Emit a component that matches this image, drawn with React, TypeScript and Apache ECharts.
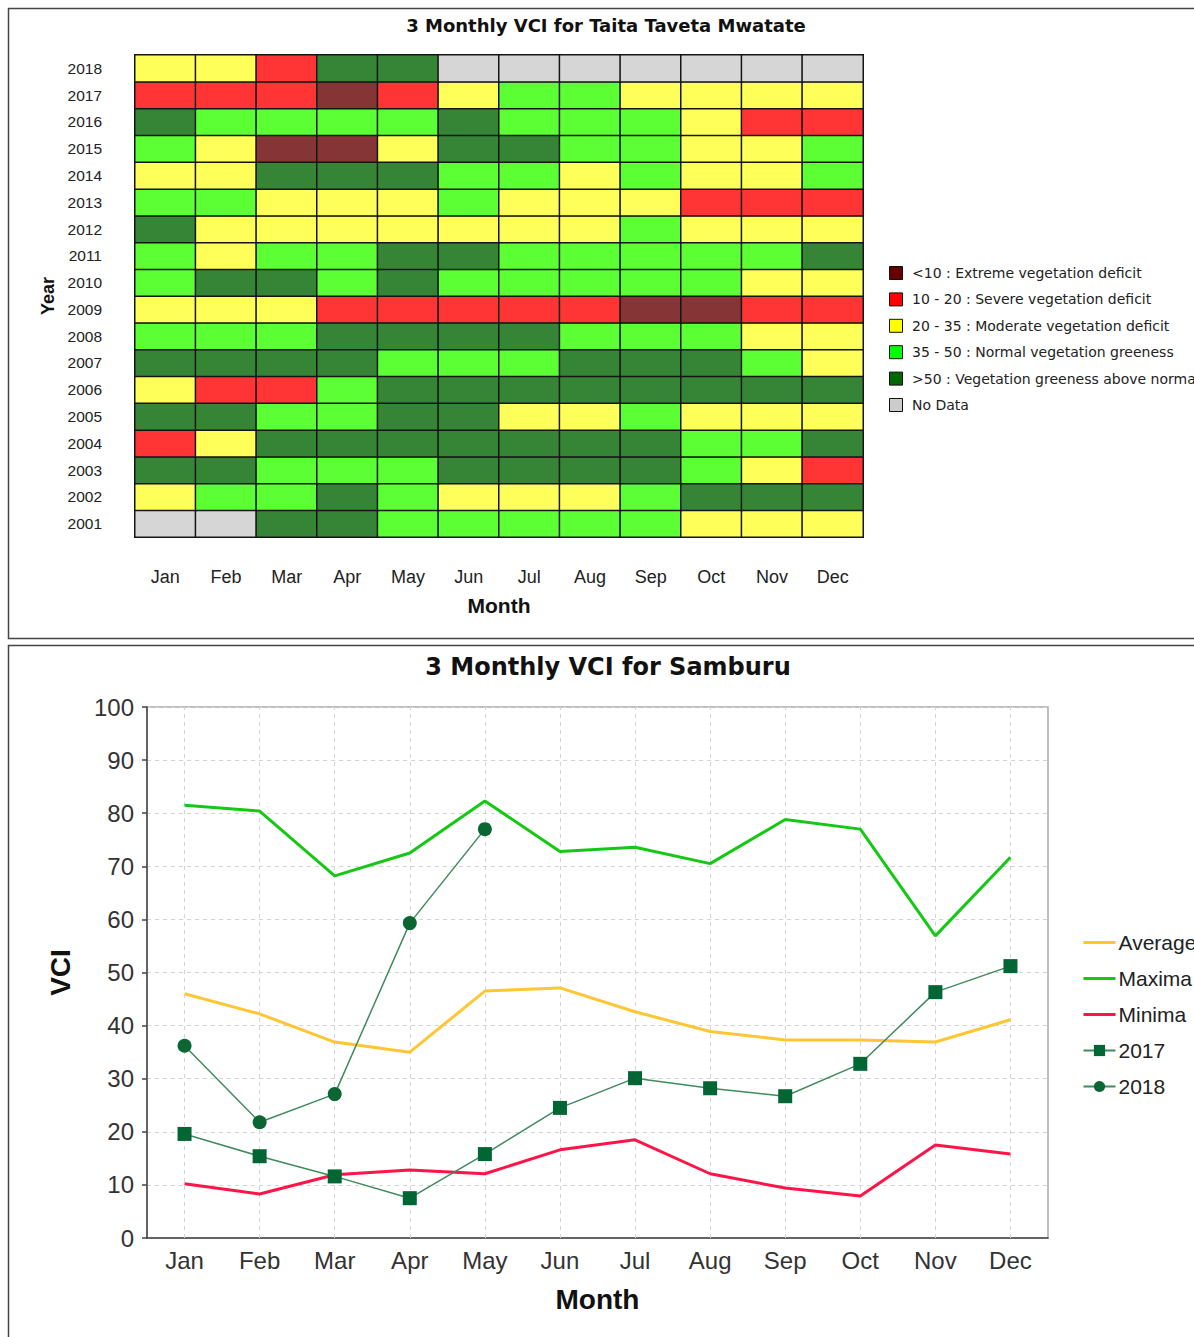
import React, { useEffect, useRef } from "react";
import * as echarts from "echarts";

// ---------- Heatmap (Taita Taveta Mwatate) ----------
const heatMonths = ["Jan", "Feb", "Mar", "Apr", "May", "Jun", "Jul", "Aug", "Sep", "Oct", "Nov", "Dec"];
const heatYears = ["2001", "2002", "2003", "2004", "2005", "2006", "2007", "2008", "2009", "2010", "2011", "2012", "2013", "2014", "2015", "2016", "2017", "2018"];
// E <10, S 10-20, M 20-35, N 35-50, A >50, X no data
const classCodes = ["E", "S", "M", "N", "A", "X"];
const classLabels = [
  "<10 : Extreme vegetation deficit",
  "10 - 20 : Severe vegetation deficit",
  "20 - 35 : Moderate vegetation deficit",
  "35 - 50 : Normal vegetation greeness",
  ">50 : Vegetation greeness above normal",
  "No Data",
];
const cellColors = ["#853535", "#ff3535", "#ffff59", "#5cff33", "#368436", "#d6d6d6"];
const legendColors = ["#660000", "#ff0000", "#ffff00", "#00ff00", "#006600", "#cccccc"];
// rows ordered 2001 -> 2018, columns Jan -> Dec
const yearClasses: string[][] = [
  ["X", "X", "A", "A", "N", "N", "N", "N", "N", "M", "M", "M"], // 2001
  ["M", "N", "N", "A", "N", "M", "M", "M", "N", "A", "A", "A"], // 2002
  ["A", "A", "N", "N", "N", "A", "A", "A", "A", "N", "M", "S"], // 2003
  ["S", "M", "A", "A", "A", "A", "A", "A", "A", "N", "N", "A"], // 2004
  ["A", "A", "N", "N", "A", "A", "M", "M", "N", "M", "M", "M"], // 2005
  ["M", "S", "S", "N", "A", "A", "A", "A", "A", "A", "A", "A"], // 2006
  ["A", "A", "A", "A", "N", "N", "N", "A", "A", "A", "N", "M"], // 2007
  ["N", "N", "N", "A", "A", "A", "A", "N", "N", "N", "M", "M"], // 2008
  ["M", "M", "M", "S", "S", "S", "S", "S", "E", "E", "S", "S"], // 2009
  ["N", "A", "A", "N", "A", "N", "N", "N", "N", "N", "M", "M"], // 2010
  ["N", "M", "N", "N", "A", "A", "N", "N", "N", "N", "N", "A"], // 2011
  ["A", "M", "M", "M", "M", "M", "M", "M", "N", "M", "M", "M"], // 2012
  ["N", "N", "M", "M", "M", "N", "M", "M", "M", "S", "S", "S"], // 2013
  ["M", "M", "A", "A", "A", "N", "N", "M", "N", "M", "M", "N"], // 2014
  ["N", "M", "E", "E", "M", "A", "A", "N", "N", "M", "M", "N"], // 2015
  ["A", "N", "N", "N", "N", "A", "N", "N", "N", "M", "S", "S"], // 2016
  ["S", "S", "S", "E", "S", "M", "N", "N", "M", "M", "M", "M"], // 2017
  ["M", "M", "S", "A", "A", "X", "X", "X", "X", "X", "X", "X"], // 2018
];

// ---------- Line chart (Samburu) ----------
const lineMonths = ["Jan", "Feb", "Mar", "Apr", "May", "Jun", "Jul", "Aug", "Sep", "Oct", "Nov", "Dec"];
const yTicks = { min: 0, max: 100, interval: 10 };
const averageVals = [46.0, 42.2, 36.9, 35.0, 46.5, 47.1, 42.6, 38.9, 37.3, 37.3, 36.9, 41.1];
const maximaVals = [81.5, 80.4, 68.2, 72.5, 82.3, 72.8, 73.6, 70.5, 78.8, 77.0, 56.9, 71.7];
const minimaVals = [10.2, 8.3, 11.9, 12.8, 12.1, 16.6, 18.5, 12.1, 9.4, 7.9, 17.5, 15.8];
const vals2017 = [19.6, 15.4, 11.6, 7.5, 15.8, 24.5, 30.1, 28.2, 26.7, 32.8, 46.3, 51.2];
const vals2018 = [36.2, 21.8, 27.1, 59.3, 77.0, null, null, null, null, null, null, null];

export default function App() {
  const ref = useRef<HTMLDivElement>(null);

  useEffect(() => {
    if (!ref.current) return;
    const chart = echarts.init(ref.current, null, { renderer: "svg" });

    const heatData: number[][] = [];
    yearClasses.forEach((row, yi) =>
      row.forEach((c, mi) => heatData.push([mi, yi, classCodes.indexOf(c)]))
    );

    const legendGraphics: any[] = [];
    classLabels.forEach((lab, i) => {
      const cy = 273 + i * 26.4;
      legendGraphics.push({
        type: "rect",
        shape: { x: 889.5, y: cy - 6.5, width: 13, height: 13 },
        style: { fill: legendColors[i], stroke: "#111", lineWidth: 1 },
        silent: true,
      });
      legendGraphics.push({
        type: "text",
        x: 912,
        y: cy,
        style: {
          text: lab,
          fill: "#222",
          font: "14px 'DejaVu Sans'",
          textVerticalAlign: "middle",
        },
        silent: true,
      });
    });

    const sansAxis = "Liberation Sans";

    chart.setOption({
      animation: false,
      backgroundColor: "#ffffff",
      graphic: [
        {
          type: "rect",
          shape: { x: 8.5, y: 8.5, width: 1200, height: 630 },
          style: { fill: "none", stroke: "#444", lineWidth: 1.5 },
          silent: true,
        },
        {
          type: "rect",
          shape: { x: 8.5, y: 645.5, width: 1200, height: 720 },
          style: { fill: "none", stroke: "#444", lineWidth: 1.5 },
          silent: true,
        },
        {
          type: "text",
          x: 606,
          y: 25,
          style: {
            text: "3 Monthly VCI for Taita Taveta Mwatate",
            fill: "#111",
            font: "bold 18px 'DejaVu Sans'",
            textAlign: "center",
            textVerticalAlign: "middle",
          },
          silent: true,
        },
        {
          type: "text",
          x: 608,
          y: 667,
          style: {
            text: "3 Monthly VCI for Samburu",
            fill: "#111",
            font: "bold 24px 'DejaVu Sans'",
            textAlign: "center",
            textVerticalAlign: "middle",
          },
          silent: true,
        },
        ...legendGraphics,
      ],
      grid: [
        { left: 135, top: 55, width: 728, height: 482 },
        {
          left: 147,
          top: 707,
          width: 901,
          height: 531,
          show: true,
          borderColor: "#aaaaaa",
          borderWidth: 1.5,
        },
      ],
      xAxis: [
        {
          type: "category",
          gridIndex: 0,
          data: heatMonths,
          name: "Month",
          nameLocation: "middle",
          nameGap: 58,
          nameTextStyle: { fontFamily: sansAxis, fontWeight: "bold", fontSize: 21, color: "#111" },
          axisLine: { show: false },
          axisTick: { show: false },
          axisLabel: { margin: 31, fontFamily: sansAxis, fontSize: 18, color: "#222" },
          splitLine: { show: false },
        },
        {
          type: "category",
          gridIndex: 1,
          data: lineMonths,
          name: "Month",
          nameLocation: "middle",
          nameGap: 47,
          nameTextStyle: { fontFamily: sansAxis, fontWeight: "bold", fontSize: 28, color: "#111" },
          axisLine: { lineStyle: { color: "#444", width: 1.5 } },
          axisTick: { alignWithLabel: true, length: 6, lineStyle: { color: "#444", width: 1.5 } },
          axisLabel: { margin: 10, fontFamily: sansAxis, fontSize: 24, color: "#333" },
          splitLine: { show: false },
        },
      ],
      yAxis: [
        {
          type: "category",
          gridIndex: 0,
          data: heatYears,
          name: "Year",
          nameLocation: "middle",
          nameGap: 78,
          nameRotate: 90,
          nameTextStyle: { fontFamily: sansAxis, fontWeight: "bold", fontSize: 18, color: "#111" },
          axisLine: { show: false },
          axisTick: { show: false },
          axisLabel: { margin: 33, fontFamily: sansAxis, fontSize: 15.5, color: "#222" },
          splitLine: { show: false },
        },
        {
          type: "value",
          gridIndex: 1,
          min: yTicks.min,
          max: yTicks.max,
          interval: yTicks.interval,
          name: "VCI",
          nameLocation: "middle",
          nameGap: 73,
          nameRotate: 90,
          nameTextStyle: { fontFamily: sansAxis, fontWeight: "bold", fontSize: 28, color: "#111" },
          axisLine: { show: true, lineStyle: { color: "#444", width: 1.5 } },
          axisTick: { show: true, length: 5, lineStyle: { color: "#444", width: 1.5 } },
          axisLabel: { margin: 13, fontFamily: sansAxis, fontSize: 24, color: "#333" },
          splitLine: { show: true, lineStyle: { type: [4, 4], color: "#d4d4d4", width: 1 } },
        },
      ],
      visualMap: {
        type: "piecewise",
        show: false,
        seriesIndex: 0,
        dimension: 2,
        pieces: cellColors.map((c, i) => ({ value: i, color: c })),
      },
      legend: {
        orient: "vertical",
        left: 1082,
        top: 932,
        itemWidth: 32,
        itemHeight: 14,
        itemGap: 15,
        padding: 0,
        data: [
          { name: "Average", itemStyle: { opacity: 0 }, lineStyle: { width: 3 } },
          { name: "Maxima", itemStyle: { opacity: 0 }, lineStyle: { width: 3 } },
          { name: "Minima", itemStyle: { opacity: 0 }, lineStyle: { width: 3 } },
          { name: "2017", lineStyle: { width: 2 } },
          { name: "2018", lineStyle: { width: 2 } },
        ],
        textStyle: { fontFamily: sansAxis, fontSize: 21, color: "#222", padding: [0, 0, 0, -2] },
      },
      series: [
        {
          type: "heatmap",
          xAxisIndex: 0,
          yAxisIndex: 0,
          data: heatData,
          itemStyle: { borderColor: "#151515", borderWidth: 1.5 },
          emphasis: { disabled: true },
        },
        {
          name: "gridlines",
          type: "line",
          xAxisIndex: 1,
          yAxisIndex: 1,
          data: lineMonths.map(() => null),
          symbol: "none",
          lineStyle: { opacity: 0 },
          z: 1,
          markLine: {
            silent: true,
            z: 1,
            symbol: "none",
            label: { show: false },
            lineStyle: { type: [4, 4], color: "#d4d4d4", width: 1 },
            data: lineMonths.map((m) => ({ xAxis: m })),
          },
        },
        {
          name: "Average",
          type: "line",
          xAxisIndex: 1,
          yAxisIndex: 1,
          data: averageVals,
          symbol: "none",
          z: 3,
          itemStyle: { color: "#ffc634" },
          lineStyle: { color: "#ffc634", width: 3 },
        },
        {
          name: "Maxima",
          type: "line",
          xAxisIndex: 1,
          yAxisIndex: 1,
          data: maximaVals,
          symbol: "none",
          z: 3,
          itemStyle: { color: "#14c814" },
          lineStyle: { color: "#14c814", width: 3 },
        },
        {
          name: "Minima",
          type: "line",
          xAxisIndex: 1,
          yAxisIndex: 1,
          data: minimaVals,
          symbol: "none",
          z: 3,
          itemStyle: { color: "#ff1448" },
          lineStyle: { color: "#ff1448", width: 3 },
        },
        {
          name: "2017",
          type: "line",
          xAxisIndex: 1,
          yAxisIndex: 1,
          data: vals2017,
          symbol: "rect",
          symbolSize: 14,
          z: 4,
          itemStyle: { color: "#006633", borderWidth: 0 },
          lineStyle: { color: "#3f8a5e", width: 1.5 },
        },
        {
          name: "2018",
          type: "line",
          xAxisIndex: 1,
          yAxisIndex: 1,
          data: vals2018,
          symbol: "circle",
          symbolSize: 14,
          z: 4,
          itemStyle: { color: "#0b6634", borderWidth: 0 },
          lineStyle: { color: "#3f8a5e", width: 1.5 },
        },
      ],
    });

    return () => chart.dispose();
  }, []);

  return (
    <div
      ref={ref}
      style={{ position: "fixed", left: 0, top: 0, width: 1194, height: 1337 }}
    />
  );
}
